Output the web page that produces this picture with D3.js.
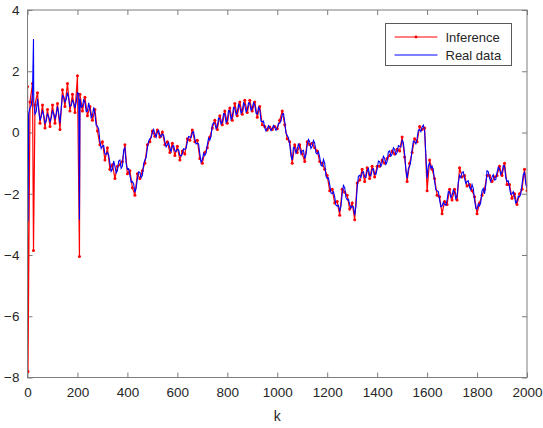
<!DOCTYPE html>
<html>
<head>
<meta charset="utf-8">
<script src="https://cdn.jsdelivr.net/npm/d3@7/dist/d3.min.js"></script>
<style>
  html, body { margin: 0; padding: 0; background: #fff; }
  svg { display: block; font-family: "Liberation Sans", Arial, Helvetica, sans-serif; }
</style>
</head>
<body>
<svg id="chart" width="543" height="428"></svg>
<script>
// sample index (every 10 steps) and the two series
const kValues = d3.range(0, 2001, 10);
const kMid = d3.range(5, 2000, 10);

const realData = [
  1.2, 0.8, 1.3, 0.6, 1.1, 0.4, 0.7, 0.3, 0.6, 0.35,
  0.7, 0.45, 0.85, 0.3, 1.2, 1.0, 1.3, 0.85, 1.05, 0.8,
  1.3, 1.1, 0.85, 1.0, 0.7, 0.75, 0.55, 0.6, 0.2, -0.3,
  -0.45, -0.7, -0.65, -1.0, -1.2, -1.1, -1.25, -0.9, -1.1, -0.5,
  -1.2, -1.4, -1.6, -1.95, -1.5, -1.3, -1.4, -0.9, -0.5, -0.2,
  0.0, -0.05, 0.02, -0.08, -0.05, -0.3, -0.4, -0.5, -0.45, -0.6,
  -0.55, -0.75, -0.7, -0.55, -0.3, -0.15, 0.0, -0.2, -0.35, -0.7,
  -0.9, -0.75, -0.4, -0.25, 0.25, 0.3, 0.2, 0.45, 0.35, 0.6,
  0.4, 0.7, 0.5, 0.8, 0.65, 0.85, 0.7, 0.9, 0.75, 0.95,
  0.8, 0.9, 0.6, 0.75, 0.35, 0.15, 0.12, 0.15, 0.13, 0.16,
  0.15, 0.3, 0.6, 0.35, -0.1, -0.4, -0.9, -0.5, -0.55, -0.5,
  -0.6, -0.85, -0.4, -0.3, -0.45, -0.35, -0.7, -0.8, -1.1, -1.0,
  -1.5, -1.7, -2.0, -2.1, -2.4, -2.55, -2.0, -1.8, -2.2, -2.35,
  -2.4, -2.7, -1.8, -1.4, -1.3, -1.45, -1.25, -1.4, -1.2, -1.35,
  -1.2, -0.95, -1.0, -0.85, -0.95, -0.6, -0.7, -0.55, -0.65, -0.45,
  -0.25, -0.7, -1.5, -1.1, -0.55, -0.3, -0.2, 0.1, 0.18, 0.05,
  -1.5, -1.0, -1.1, -1.6, -1.9, -2.2, -2.4, -2.35, -2.2, -1.95,
  -2.05, -1.95, -2.1, -1.4, -1.3, -1.5, -1.6, -1.8, -1.7, -2.2,
  -2.5, -2.4, -1.9, -2.0, -1.25, -1.5, -1.45, -1.55, -1.3, -1.2,
  -1.3, -1.1, -1.6, -1.8, -2.0, -2.1, -2.25, -2.1, -1.7, -1.3,
  -1.8
];

// real data in between the regular samples (k = 5, 15, ...)
const realMid = [
  0.62, 0.88, 1.02, 0.68, 0.72, 0.53, 0.57, 0.38, 0.52, 0.48,
  0.62, 0.58, 0.62, 0.78, 1.17, 1.08, 1.12, 0.88, 0.97, 0.98,
  1.27, 0.83, 1.07, 0.68, 0.97, 0.48, 0.82, 0.23, 0.12, -0.52,
  -0.43, -0.72, -0.73, -1.27, -0.93, -1.32, -0.93, -1.17, -0.58, -1.02,
  -1.18, -1.62, -1.68, -1.82, -1.28, -1.47, -1.03, -0.82, -0.28, -0.17,
  0.1, -0.15, 0.07, -0.14, -0.08, -0.47, -0.33, -0.62, -0.43, -0.62,
  -0.56, -0.77, -0.53, -0.52, -0.13, -0.17, 0.02, -0.37, -0.38, -0.97,
  -0.68, -0.67, -0.18, -0.12, 0.32, 0.13, 0.47, 0.28, 0.62, 0.33,
  0.72, 0.43, 0.82, 0.58, 0.92, 0.63, 0.97, 0.68, 0.97, 0.73,
  0.97, 0.63, 0.82, 0.38, 0.37, 0.05, 0.22, 0.06, 0.23, 0.07,
  0.3, 0.38, 0.62, -0.02, -0.18, -0.77, -0.48, -0.67, -0.36, -0.7,
  -0.58, -0.72, -0.23, -0.52, -0.26, -0.67, -0.63, -1.07, -0.88, -1.42,
  -1.48, -1.97, -1.93, -2.37, -2.38, -2.42, -1.73, -2.12, -2.18, -2.47,
  -2.43, -2.42, -1.43, -1.47, -1.28, -1.47, -1.18, -1.42, -1.18, -1.37,
  -0.93, -1.1, -0.78, -1.04, -0.63, -0.77, -0.5, -0.72, -0.43, -0.47,
  -0.33, -1.22, -1.18, -0.92, -0.28, -0.37, 0.07, 0.03, 0.24, -0.72,
  -1.08, -1.17, -1.23, -1.87, -1.93, -2.42, -2.28, -2.37, -1.93, -2.12,
  -1.88, -2.17, -1.63, -1.47, -1.28, -1.67, -1.58, -1.87, -1.83, -2.47,
  -2.33, -2.27, -1.83, -1.72, -1.28, -1.6, -1.38, -1.54, -1.13, -1.37,
  -1.08, -1.47, -1.58, -2.02, -1.93, -2.3, -2.08, -2.02, -1.38, -1.67
];

const inference = [
  1.5, 1.0, 1.6, 0.9, 1.3, 0.3, 0.9, 0.15, 0.75, 0.2,
  0.9, 0.3, 0.95, 0.1, 1.4, 0.85, 1.6, 0.7, 1.25, 0.65,
  1.85, 1.25, 0.7, 1.15, 0.55, 0.85, 0.4, 0.75, 0.05, -0.4,
  -0.3, -0.9, -0.5, -1.2, -1.05, -1.5, -1.1, -1.05, -0.95, -0.4,
  -1.35, -1.25, -1.8, -2.05, -1.35, -1.5, -1.25, -1.0, -0.4, -0.3,
  0.05, -0.12, 0.08, -0.15, 0.02, -0.4, -0.3, -0.65, -0.35, -0.75,
  -0.45, -0.9, -0.6, -0.7, -0.2, -0.25, 0.08, -0.3, -0.25, -0.85,
  -1.0, -0.65, -0.5, -0.15, 0.15, 0.4, 0.1, 0.55, 0.25, 0.7,
  0.3, 0.8, 0.4, 0.95, 0.55, 1.0, 0.6, 1.05, 0.65, 1.05,
  0.7, 1.0, 0.5, 0.85, 0.25, 0.2, 0.08, 0.18, 0.1, 0.2,
  0.12, 0.4, 0.7, 0.25, -0.2, -0.3, -1.0, -0.4, -0.65, -0.4,
  -0.7, -0.95, -0.3, -0.4, -0.35, -0.5, -0.6, -0.95, -1.0, -1.2,
  -1.4, -1.9, -1.85, -2.3, -2.25, -2.7, -1.85, -1.95, -2.05, -2.5,
  -2.3, -2.85, -1.65, -1.55, -1.2, -1.6, -1.15, -1.5, -1.1, -1.45,
  -1.1, -1.1, -0.9, -1.0, -0.85, -0.75, -0.6, -0.7, -0.55, -0.6,
  -0.15, -0.8, -1.6, -1.0, -0.65, -0.2, -0.3, 0.2, 0.1, 0.15,
  -1.9, -0.9, -1.2, -1.5, -2.05, -2.1, -2.65, -2.25, -2.35, -1.85,
  -2.2, -1.85, -2.2, -1.15, -1.45, -1.4, -1.75, -1.7, -1.9, -2.1,
  -2.65, -2.3, -2.05, -1.85, -1.4, -1.4, -1.6, -1.45, -1.4, -1.1,
  -1.4, -1.0, -1.7, -1.7, -2.15, -2.0, -2.35, -2.0, -1.85, -1.2,
  -1.9
];

// isolated spikes between the regular samples
const spikeK = [2, 24, 208];
const spikeReal = [-2.9, 3.05, -2.85];
const spikeInference = [-7.8, -3.85, -4.05];

const xTicks = d3.range(0, 2001, 200);
const yTicks = [-8, -6, -4, -2, 0, 2, 4];
const legendLabels = ["Inference", "Real data"];

const plot = { left: 27.5, right: 527, top: 10, bottom: 377.5 };
const axisGrey = "#7d7d7d";
const textColour = "#262626";
const tickSize = 5;

const buildSeries = (parts) => {
  const pts = [];
  parts.forEach(([ks, vs]) => ks.forEach((k, i) => pts.push({ k, v: vs[i] })));
  return pts.sort((a, b) => a.k - b.k);
};

const realSeries = buildSeries([[kValues, realData], [kMid, realMid], [spikeK, spikeReal]]);
const inferenceSeries = buildSeries([[kValues, inference], [spikeK, spikeInference]]);

const svg = d3.select("#chart");

const xScale = d3.scaleLinear().domain([0, 2000]).range([plot.left, plot.right]);
const yScale = d3.scaleLinear().domain([-8, 4]).range([plot.bottom, plot.top]);

svg.append("defs")
  .append("clipPath")
  .attr("id", "plot-clip")
  .append("rect")
  .attr("x", plot.left)
  .attr("y", plot.top)
  .attr("width", plot.right - plot.left)
  .attr("height", plot.bottom - plot.top);

// axes, ticks pointing inwards on all four sides
const styleAxis = (g) => {
  g.select(".domain").remove();
  g.selectAll(".tick line").attr("stroke", axisGrey);
  g.selectAll(".tick text")
    .attr("fill", textColour)
    .attr("font-size", "13.5px");
};

svg.append("g")
  .attr("transform", `translate(0, ${plot.bottom})`)
  .call(d3.axisBottom(xScale).tickValues(xTicks).tickFormat(d3.format("d"))
    .tickSizeInner(-tickSize).tickSizeOuter(0).tickPadding(10))
  .call(styleAxis);

svg.append("g")
  .attr("transform", `translate(0, ${plot.top})`)
  .call(d3.axisTop(xScale).tickValues(xTicks).tickSizeInner(-tickSize).tickSizeOuter(0).tickFormat(""))
  .call(styleAxis);

svg.append("g")
  .attr("transform", `translate(${plot.left}, 0)`)
  .call(d3.axisLeft(yScale).tickValues(yTicks).tickFormat(d3.format("d"))
    .tickSizeInner(-tickSize).tickSizeOuter(0).tickPadding(8))
  .call(styleAxis);

svg.append("g")
  .attr("transform", `translate(${plot.right}, 0)`)
  .call(d3.axisRight(yScale).tickValues(yTicks).tickSizeInner(-tickSize).tickSizeOuter(0).tickFormat(""))
  .call(styleAxis);

const line = d3.line()
  .x((d) => xScale(d.k))
  .y((d) => yScale(d.v));

const marks = svg.append("g").attr("clip-path", "url(#plot-clip)");

marks.append("path")
  .datum(inferenceSeries)
  .attr("fill", "none")
  .attr("stroke", "#ff0000")
  .attr("stroke-width", 1.2)
  .attr("d", line);

marks.selectAll("circle.inf")
  .data(inferenceSeries)
  .join("circle")
  .attr("class", "inf")
  .attr("cx", (d) => xScale(d.k))
  .attr("cy", (d) => yScale(d.v))
  .attr("r", 1.5)
  .attr("fill", "#ff0000");

marks.append("path")
  .datum(realSeries)
  .attr("fill", "none")
  .attr("stroke", "#0000ff")
  .attr("stroke-width", 1.1)
  .attr("d", line);

// box
svg.append("rect")
  .attr("x", plot.left)
  .attr("y", plot.top)
  .attr("width", plot.right - plot.left)
  .attr("height", plot.bottom - plot.top)
  .attr("fill", "none")
  .attr("stroke", axisGrey)
  .attr("stroke-width", 1);

// x label
svg.append("text")
  .attr("x", (plot.left + plot.right) / 2)
  .attr("y", 421)
  .attr("text-anchor", "middle")
  .attr("font-size", "14px")
  .attr("fill", textColour)
  .text("k");

// legend
const legend = svg.append("g").attr("transform", "translate(385.5, 23.5)");

legend.append("rect")
  .attr("width", 126)
  .attr("height", 42)
  .attr("fill", "#fff")
  .attr("stroke", "#5a5a5a")
  .attr("stroke-width", 1);

const legendColours = ["#ff0000", "#0000ff"];

legendLabels.forEach((label, i) => {
  const y = 13.5 + i * 18;
  legend.append("line")
    .attr("x1", 9)
    .attr("x2", 52)
    .attr("y1", y)
    .attr("y2", y)
    .attr("stroke", legendColours[i])
    .attr("stroke-width", 1);
  if (i === 0) {
    legend.append("circle")
      .attr("cx", 30.5)
      .attr("cy", y)
      .attr("r", 1.4)
      .attr("fill", legendColours[i]);
  }
  legend.append("text")
    .attr("x", 60)
    .attr("y", y)
    .attr("dy", "0.35em")
    .attr("font-size", "13px")
    .attr("fill", textColour)
    .text(label);
});
</script>
</body>
</html>
